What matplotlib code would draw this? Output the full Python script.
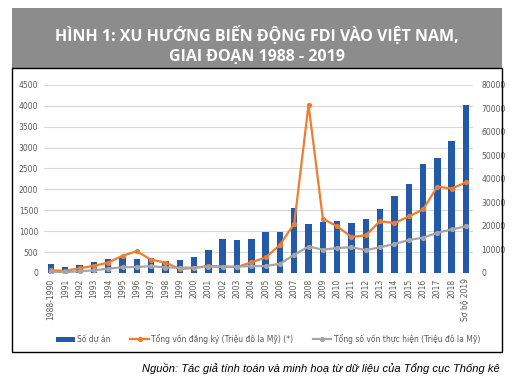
import numpy as np
import matplotlib.pyplot as plt
from matplotlib.patches import Rectangle

# dữ liệu
years = ['1988-1990'] + [str(y) for y in range(1991, 2019)] + ['Sơ bộ 2019']
so_du_an = [211, 151, 197, 269, 343, 370, 325, 345, 275, 311, 371, 555, 808, 791, 811,
            970, 987, 1544, 1171, 1208, 1237, 1186, 1287, 1530, 1843, 2120, 2613, 2741,
            3147, 4028]
von_dang_ky = [1130, 850, 2000, 3000, 4400, 7300, 9200, 5600, 4400, 1700, 2100, 3000,
               2600, 2500, 4500, 6600, 11900, 21000, 71500, 23000, 19800, 15300, 16000,
               22000, 21200, 24000, 27000, 36700, 35900, 38500]
von_thuc_hien = [400, 350, 700, 1100, 1800, 2400, 2500, 2900, 2300, 2200, 2300, 2600,
                 2700, 2700, 2900, 2900, 3900, 7700, 11200, 9900, 10600, 10900, 9700,
                 10900, 12300, 14000, 15000, 17100, 18500, 19800]

fig = plt.figure(figsize=(5.31, 3.91), dpi=100)

# khung tiêu đề và khung biểu đồ
fig.patches.append(Rectangle((0.0226, 0.826), 0.9224, 0.154, transform=fig.transFigure,
                             facecolor='#8c8c8c', edgecolor='none'))
fig.patches.append(Rectangle((0.0226, 0.0997), 0.9224, 0.7263, transform=fig.transFigure,
                             facecolor='none', edgecolor='black', linewidth=1.0))
fig.text(0.484, 0.884, 'HÌNH 1: XU HƯỚNG BIẾN ĐỘNG FDI VÀO VIỆT NAM,\nGIAI ĐOẠN 1988 - 2019',
         ha='center', va='center', color='white', fontsize=11.5, fontweight='bold',
         family=['Open Sans', 'DejaVu Sans'], linespacing=1.3)

ax = fig.add_axes([0.0825, 0.302, 0.8085, 0.481])
x = np.arange(len(years))
b = ax.bar(x, so_du_an, width=0.45, color='#2259a8', label='Số dự án', zorder=2)
ax.set_xlim(-0.5, len(years) - 0.5)
ax.set_ylim(0, 4500)
ax.set_yticks(np.arange(0, 4501, 500))
ax.grid(axis='y', color='#d9d9d9', linewidth=0.8, zorder=0)
ax.set_axisbelow(True)
for s in ax.spines.values():
    s.set_visible(False)
ax.tick_params(length=0, labelsize=5.5, colors='#595959', pad=4)
ax.set_xticks(x)
ax.set_xticklabels(years, rotation=90)

ax2 = ax.twinx()
l1, = ax2.plot(x, von_dang_ky, color='#ed7d31', lw=1.6, marker='o', ms=2.8,
               label='Tổng vốn đăng ký (Triệu đô la Mỹ) (*)', zorder=3)
l2, = ax2.plot(x, von_thuc_hien, color='#a5a5a5', lw=1.6, marker='o', ms=2.8,
               label='Tổng số vốn thực hiện (Triệu đô la Mỹ)', zorder=3)
ax2.set_ylim(0, 80000)
ax2.set_yticks(np.arange(0, 80001, 10000))
for s in ax2.spines.values():
    s.set_visible(False)
ax2.tick_params(length=0, labelsize=5.5, colors='#595959', pad=6)

fig.legend(handles=[b, l1, l2], loc='center', bbox_to_anchor=(0.505, 0.133), ncol=3,
           frameon=False, fontsize=5.5, handlelength=2.4, handletextpad=0.3,
           columnspacing=2.6, labelcolor='#595959')

fig.text(0.942, 0.058, 'Nguồn: Tác giả tính toán và minh hoạ từ dữ liệu của Tổng cục Thống kê',
         ha='right', va='center', fontsize=8, style='italic',
         family=['Liberation Sans', 'DejaVu Sans'])

fig.savefig('out.png', dpi=100, facecolor='white')
